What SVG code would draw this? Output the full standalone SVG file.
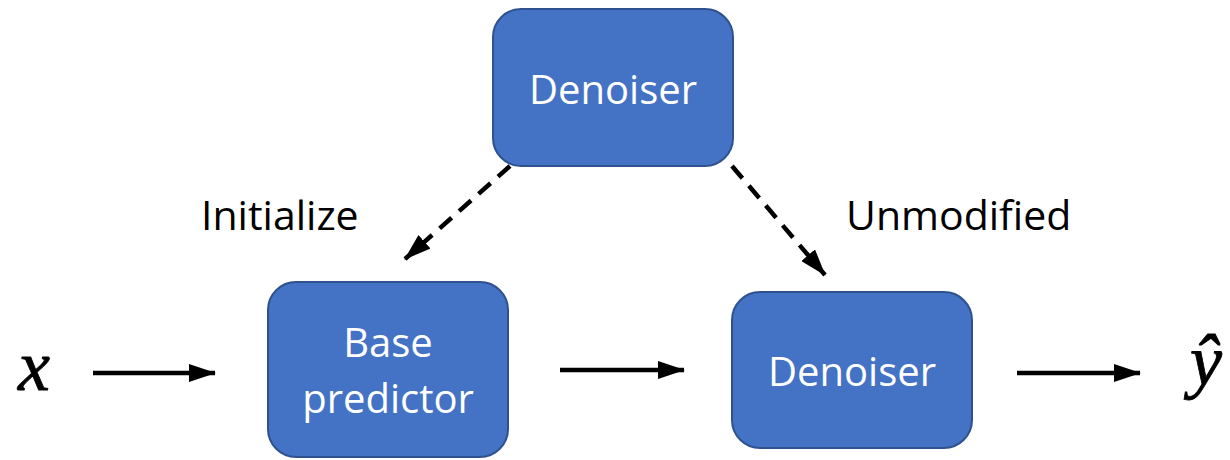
<svg xmlns="http://www.w3.org/2000/svg" width="1230" height="460" viewBox="0 0 1230 460">
  <style>
    .box { fill: #4472C4; stroke: #2F528F; stroke-width: 2; }
    .boxtext { font-family: "Open Sans", "Liberation Sans", sans-serif; font-size: 40px; fill: #ffffff; text-anchor: middle; }
    .label { font-family: "Open Sans", "Liberation Sans", sans-serif; font-size: 41px; fill: #000000; }
    .math { font-family: "Liberation Serif", "DejaVu Serif", serif; font-style: italic; font-size: 72px; fill: #000000; stroke: #000000; stroke-width: 0.8; }
    .edge { stroke: #000000; stroke-width: 4.5; fill: none; marker-end: url(#arrow); }
    .dashed { stroke-dasharray: 16 10; }
  </style>
  <defs>
    <marker id="arrow" markerUnits="userSpaceOnUse" markerWidth="27" markerHeight="18" refX="26" refY="9" orient="auto">
      <path d="M0,0 L27,9 L0,18 Z" fill="#000000"/>
    </marker>
  </defs>
  <rect width="1230" height="460" fill="#ffffff"/>

  <g id="connectors">
    <line class="edge" x1="93" y1="373" x2="215" y2="373"/>
    <line class="edge" x1="560" y1="370" x2="684" y2="370"/>
    <line class="edge" x1="1017" y1="373" x2="1140" y2="373"/>
    <line class="edge dashed" x1="510" y1="166" x2="405" y2="259"/>
    <line class="edge dashed" x1="732" y1="166" x2="825" y2="275"/>
  </g>

  <g id="denoiser-top">
    <rect class="box" x="493" y="9" width="240" height="157" rx="28" ry="28"/>
    <text class="boxtext" x="613" y="104">Denoiser</text>
  </g>

  <g id="base-predictor">
    <rect class="box" x="268" y="282" width="240" height="175" rx="28" ry="28"/>
    <text class="boxtext" x="388" y="357">Base</text>
    <text class="boxtext" x="388" y="413">predictor</text>
  </g>

  <g id="denoiser-bottom">
    <rect class="box" x="732" y="292" width="240" height="156" rx="28" ry="28"/>
    <text class="boxtext" x="852" y="386">Denoiser</text>
  </g>

  <g id="labels">
    <text class="label" x="201" y="230">Initialize</text>
    <text class="label" x="846" y="230">Unmodified</text>
  </g>

  <g id="input">
    <text class="math" x="18" y="390">x</text>
  </g>
  <g id="output">
    <text class="math" x="1190" y="385">ŷ</text>
  </g>
</svg>
